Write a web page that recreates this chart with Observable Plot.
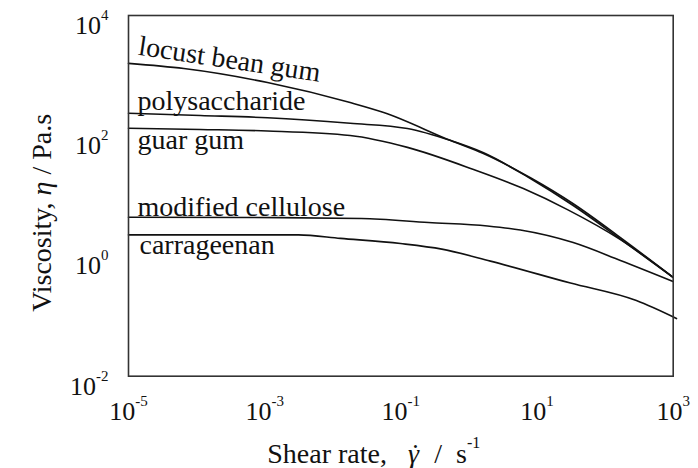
<!DOCTYPE html>
<html><head><meta charset="utf-8">
<script src="https://cdn.jsdelivr.net/npm/d3@7"></script>
<script src="https://cdn.jsdelivr.net/npm/@observablehq/plot@0.6"></script>
<style>body{margin:0;background:#fff} svg{display:block} svg text{font-family:"Liberation Serif","Times New Roman",Times,serif !important}</style>
</head><body><div id="chart"></div>
<script>
// tick values and labels
const xTicks = [1e-5, 1e-3, 1e-1, 1e1, 1e3];
const xTickLabels = ["10^-5", "10^-3", "10^-1", "10^1", "10^3"];
const yTicks = [1e-2, 1e0, 1e2, 1e4];
const yTickLabels = ["10^-2", "10^0", "10^2", "10^4"];

// series (shear rate in 1/s, viscosity in Pa.s)
const seriesNames = ["locust bean gum", "polysaccharide", "guar gum", "modified cellulose", "carrageenan"];

const locustX = [1e-5, 6.5e-5, 1.1e-3, 0.018, 0.056, 0.54, 1.6, 8, 34, 170, 1000];
const locustY = [1600, 1312, 767, 356, 243, 83, 51, 20, 7.4, 2.0, 0.44];

const polyX = [1e-5, 1.14e-4, 1.1e-3, 0.018, 0.125, 0.54, 1.64, 8, 34, 168, 1000];
const polyY = [237, 217, 199, 161, 132, 83, 52, 19.4, 6.9, 1.91, 0.44];

const guarX = [1e-5, 1.14e-4, 1.1e-3, 0.018, 0.125, 1.17, 6.3, 28, 168, 1000];
const guarY = [133, 127, 120, 101, 64, 27.4, 13.2, 5.9, 1.87, 0.44];

const cellX = [1e-5, 6.2e-4, 0.0264, 0.255, 1.87, 5.7, 34, 168, 1000];
const cellY = [4.41, 4.36, 4.19, 3.60, 3.15, 2.70, 1.67, 0.84, 0.375];

const carrX = [1e-5, 3.14e-3, 0.013, 0.099, 0.40, 2.07, 31, 288, 1117];
const carrY = [2.24, 2.24, 1.96, 1.61, 1.30, 0.82, 0.354, 0.181, 0.091];

const seriesX = [locustX, polyX, guarX, cellX, carrX];
const seriesY = [locustY, polyY, guarY, cellY, carrY];

const rows = seriesNames.flatMap((name, s) =>
  seriesX[s].map((x, i) => ({series: name, x, y: seriesY[s][i]})));

const serif = "Liberation Serif";

function seriesLabel(s, dx, dy, rotate) {
  return Plot.text([{name: seriesNames[s], x: seriesX[s][0], y: seriesY[s][0]}], {
    x: "x", y: "y", text: "name", dx, dy, rotate,
    textAnchor: "start", lineAnchor: "bottom", fontSize: 28, fontFamily: serif, fill: "#111"
  });
}

const chart = Plot.plot({
  width: 698,
  height: 468,
  marginLeft: 128,
  marginRight: 25.3,
  marginTop: 15,
  marginBottom: 92.3,
  style: {background: "#fff", color: "#111"},
  x: {type: "log", domain: [1e-5, 1e3]},
  y: {type: "log", domain: [1e-2, 1e4]},
  marks: [
    Plot.line(rows, {x: "x", y: "y", z: "series", stroke: "#111", strokeWidth: 1.6, curve: "monotone-x"}),
    Plot.frame({stroke: "#333", strokeWidth: 1.6}),
    Plot.axisX(xTicks, {
      tickSize: 0, tickPadding: 25.8, fontSize: 26, fontFamily: serif,
      tickFormat: d => xTickLabels[xTicks.indexOf(d)], label: null
    }),
    Plot.axisY(yTicks, {
      tickSize: 0, tickPadding: 20, fontSize: 26, fontFamily: serif, dy: 10.2,
      tickFormat: d => yTickLabels[yTicks.indexOf(d)], label: null
    }),
    seriesLabel(0, 9, -8.7, 8.5),
    seriesLabel(1, 9, -3.5, 0),
    seriesLabel(2, 9, 20.3, 0),
    seriesLabel(3, 9, -1, 0),
    seriesLabel(4, 11, 19, 0),
    Plot.text(["Shear rate,"], {
      text: d => d, frameAnchor: "bottom-left", dx: 138.7, dy: 86.5, fontFamily: serif,
      textAnchor: "start", lineAnchor: "bottom", fontSize: 28, fill: "#111"
    }),
    Plot.text(["Viscosity,"], {
      text: d => d, frameAnchor: "left", dx: -78, dy: 17, rotate: -90, fontFamily: serif,
      textAnchor: "middle", lineAnchor: "bottom", fontSize: 28, fill: "#111"
    })
  ]
});

document.getElementById("chart").appendChild(chart);

const svg = d3.select(chart);
svg.attr("font-family", serif).style("font-family", serif);
// superscript tick labels
svg.selectAll("text").filter(function () { return this.textContent.startsWith("10^"); }).each(function () {
  const [base, exp] = this.textContent.split("^");
  const sel = d3.select(this);
  sel.text(null);
  sel.append("tspan").text(base);
  sel.append("tspan").attr("dy", -14).attr("font-size", 15).text(exp);
});
// x title with italic gamma-dot and superscript
svg.selectAll("text").filter(function () { return this.textContent === "Shear rate,"; }).each(function () {
  const t = d3.select(this);
  t.text(null);
  t.append("tspan").text("Shear rate,\u00A0\u00A0\u00A0");
  t.append("tspan").attr("font-style", "italic").text("\u03B3");
  t.append("tspan").attr("dx", -10).attr("font-style", "italic").text("\u02D9");
  t.append("tspan").attr("dx", 2).text("\u00A0\u00A0/\u00A0\u00A0s");
  t.append("tspan").attr("dy", -15).attr("font-size", 16).text("-1");
});
// y title with italic eta
svg.selectAll("text").filter(function () { return this.textContent === "Viscosity,"; }).each(function () {
  const t = d3.select(this);
  t.text(null);
  t.append("tspan").text("Viscosity,\u00A0");
  t.append("tspan").attr("font-style", "italic").text("\u03B7");
  t.append("tspan").text("\u00A0/\u00A0Pa.s");
});
</script>
</body></html>
